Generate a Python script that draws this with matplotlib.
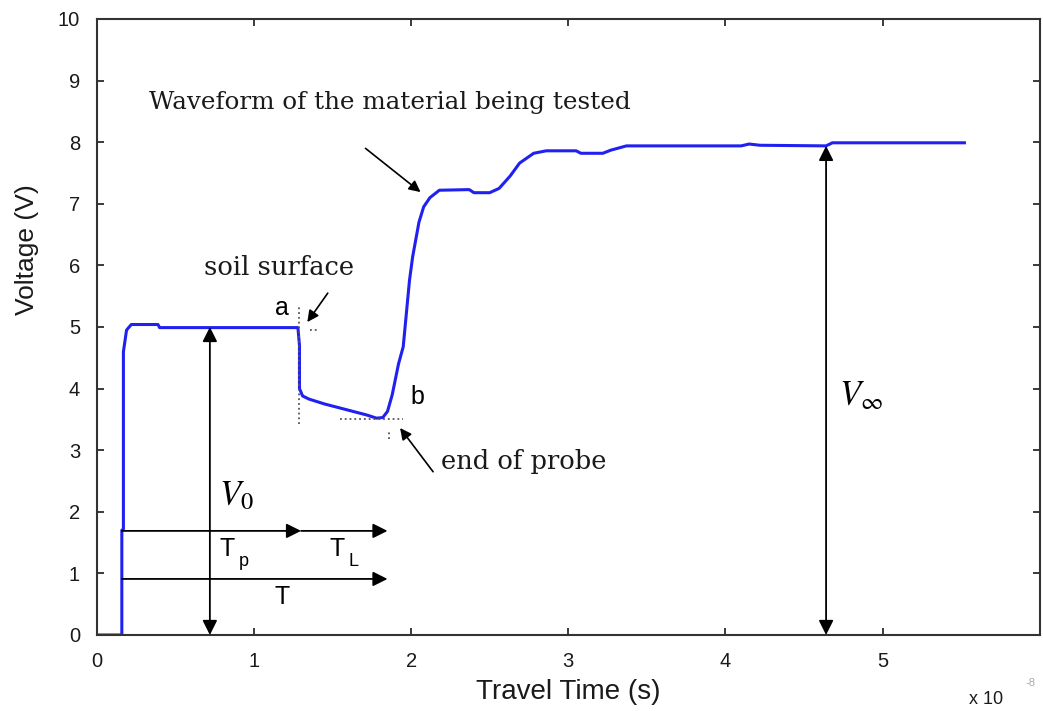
import matplotlib
matplotlib.use("Agg")
import matplotlib.pyplot as plt

# TDR waveform (time in units of 1e-8 s, voltage in V)
t_wave = [0.0, 0.16, 0.16, 0.17, 0.17, 0.19, 0.22, 0.39, 0.40, 1.28, 1.29, 1.29,
          1.31, 1.35, 1.45, 1.60, 1.72, 1.78, 1.82, 1.85, 1.88, 1.92, 1.95, 1.99,
          2.01, 2.05, 2.08, 2.12, 2.18, 2.37, 2.40, 2.50, 2.56, 2.63, 2.69, 2.78,
          2.86, 3.05, 3.08, 3.22, 3.27, 3.37, 4.10, 4.15, 4.22, 4.64, 4.68, 5.52]
v_wave = [0.0, 0.0, 1.70, 1.72, 4.60, 4.95, 5.04, 5.04, 4.99, 4.99, 4.70, 4.00,
          3.88, 3.83, 3.75, 3.65, 3.57, 3.52, 3.53, 3.63, 3.90, 4.40, 4.68, 5.76,
          6.14, 6.70, 6.95, 7.10, 7.22, 7.23, 7.18, 7.18, 7.25, 7.45, 7.66, 7.82,
          7.86, 7.86, 7.82, 7.82, 7.87, 7.94, 7.94, 7.97, 7.95, 7.94, 7.99, 7.99]

x_ticks = [0, 1, 2, 3, 4, 5]
y_ticks = list(range(0, 11))

t_start = 0.16
t_a = 1.30
t_b = 1.85
v_0 = 5.0
v_inf = 7.94
x_v0 = 0.72
x_vinf = 4.64
y_tp = 1.69
y_t = 0.91

SANS = "Liberation Sans"
SERIF = "DejaVu Serif"
INK = "#1a1a1a"
plt.rcParams["mathtext.fontset"] = "stix"

fig = plt.figure(figsize=(10.43, 7.11), dpi=100)
ax = fig.add_axes([0.0927, 0.1069, 0.9043, 0.8664])

ax.plot(t_wave, v_wave, color="#2020f0", lw=2.2, solid_joinstyle="round")

ax.set_xlim(0, 6)
ax.set_ylim(0, 10)
ax.set_xticks(x_ticks)
ax.set_yticks(y_ticks)
ax.tick_params(direction="in", length=5, width=1.2, top=True, right=True,
               labelsize=14.5, colors=INK)
ax.tick_params(axis="x", pad=12)
ax.tick_params(axis="y", pad=12)
for lab in ax.get_xticklabels() + ax.get_yticklabels():
    lab.set_family(SANS)
for sp in ax.spines.values():
    sp.set_linewidth(1.5)
    sp.set_color("#333333")

ax.set_xlabel("Travel Time (s)", fontsize=20, family=SANS, color=INK, va="center")
ax.xaxis.set_label_coords(0.50, -0.093)
ax.set_ylabel("Voltage (V)", fontsize=19, family=SANS, color=INK, va="center")
ax.yaxis.set_label_coords(-0.074, 0.625)

fig.text(0.945, 0.016, "x 10", fontsize=13, family=SANS, color=INK,
         ha="center", va="center")
fig.text(0.988, 0.040, "-8", fontsize=8, family=SANS, color="#aaaaaa",
         ha="center", va="center")


def arrow(x0, y0, x1, y1, style="-|>", scale=22, lw=1.3):
    ax.annotate("", xy=(x1, y1), xytext=(x0, y0),
                arrowprops=dict(arrowstyle=style, color="black", lw=lw,
                                mutation_scale=scale, shrinkA=0, shrinkB=0))


# voltage levels
arrow(x_v0, 0.0, x_v0, v_0, style="<|-|>")
arrow(x_vinf, 0.0, x_vinf, v_inf, style="<|-|>")
ax.text(x_v0 + 0.06, 2.27, r"$V_0$", fontsize=25, ha="left", va="center")
ax.text(x_vinf + 0.08, 3.9, r"$V_\infty$", fontsize=25, ha="left", va="center")

# travel times
arrow(t_start, y_tp, t_a, y_tp)
arrow(t_a, y_tp, t_b, y_tp)
arrow(t_start, y_t, t_b, y_t)
ax.text(0.78, 1.40, "T", fontsize=18, family=SANS, ha="left", va="center")
ax.text(0.905, 1.20, "p", fontsize=13, family=SANS, ha="left", va="center")
ax.text(1.48, 1.40, "T", fontsize=18, family=SANS, ha="left", va="center")
ax.text(1.605, 1.20, "L", fontsize=13, family=SANS, ha="left", va="center")
ax.text(1.18, 0.62, "T", fontsize=18, family=SANS, ha="center", va="center")

# reflection points
ax.plot([1.285, 1.285], [3.42, 5.33], ls=":", color="#555555", lw=1.3)
ax.plot([1.36, 1.40], [4.95, 4.95], ls=":", color="#555555", lw=1.3)
ax.plot([1.55, 1.95], [3.50, 3.50], ls=":", color="#555555", lw=1.3)
ax.plot([1.86, 1.86], [3.18, 3.32], ls=":", color="#555555", lw=1.3)
ax.text(1.18, 5.31, "a", fontsize=18, family=SANS, ha="center", va="center")
ax.text(2.04, 3.86, "b", fontsize=18, family=SANS, ha="center", va="center")

ax.text(1.16, 5.96, "soil surface", fontsize=18.5, family=SERIF, ha="center",
        va="center", color=INK)
arrow(1.47, 5.55, 1.34, 5.08, lw=1.2, scale=17)

ax.text(2.19, 2.81, "end of probe", fontsize=18.5, family=SERIF, ha="left",
        va="center", color=INK)
arrow(2.14, 2.65, 1.93, 3.36, lw=1.2, scale=17)

ax.text(0.33, 8.64, "Waveform of the material being tested", fontsize=17.7,
        family=SERIF, ha="left", va="center", color=INK)
arrow(1.71, 7.90, 2.06, 7.19, lw=1.2, scale=17)

fig.savefig("out.png", dpi=100)
plt.close(fig)
